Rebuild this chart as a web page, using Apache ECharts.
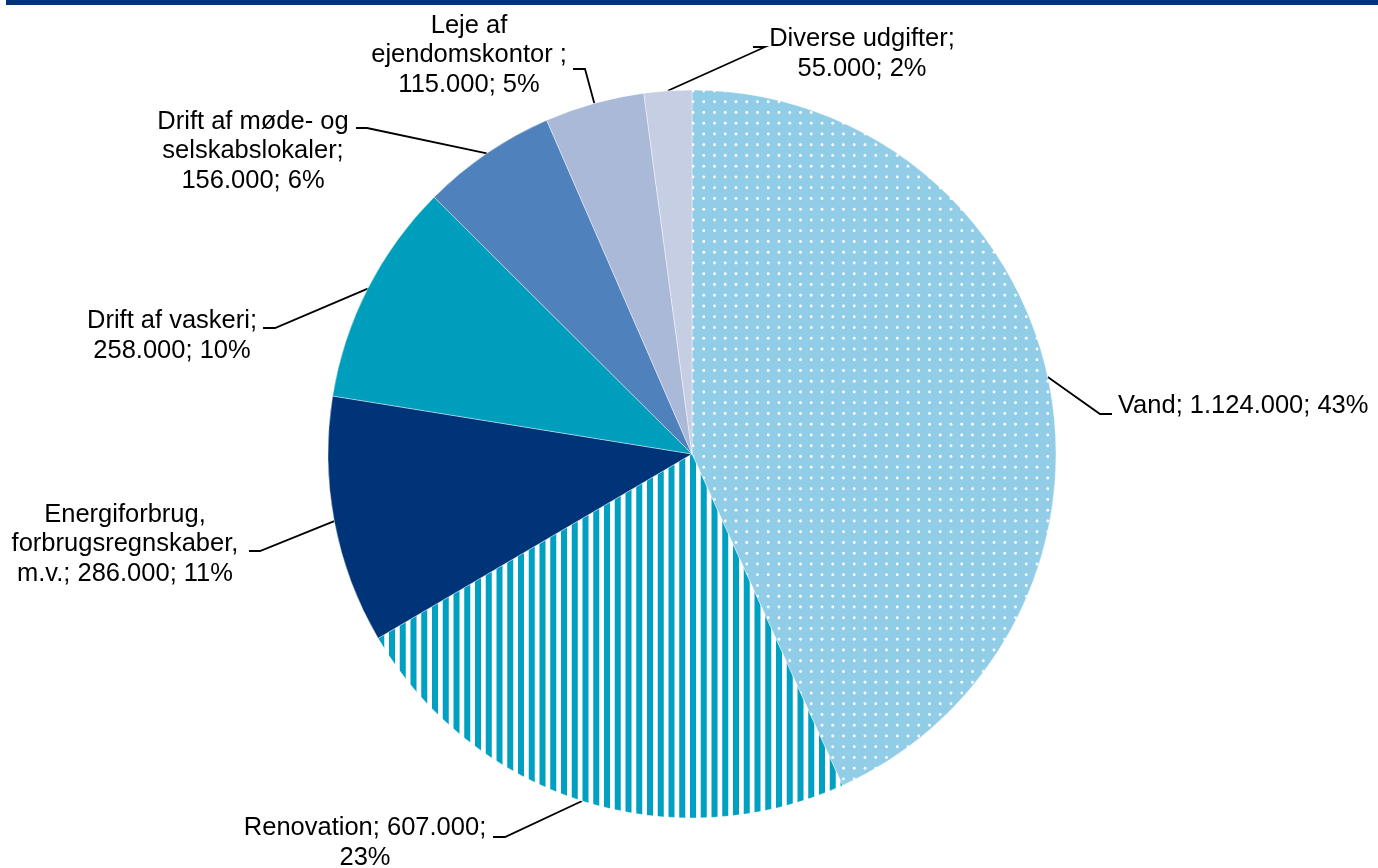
<!DOCTYPE html>
<html>
<head>
<meta charset="utf-8">
<script src="https://cdn.jsdelivr.net/npm/echarts@6/dist/echarts.min.js"></script>
<style>
  html, body { margin: 0; padding: 0; background: #fff; }
  #chart { width: 1378px; height: 868px; }
</style>
</head>
<body>
<div id="chart"></div>
<script>
// data
const categories = ['Vand', 'Renovation', 'Energiforbrug,\nforbrugsregnskaber,\nm.v.', 'Drift af vaskeri',
  'Drift af møde- og\nselskabslokaler', 'Leje af\nejendomskontor ', 'Diverse udgifter']
const values = [1124000, 607000, 286000, 258000, 156000, 115000, 55000]
const shares = [43, 23, 11, 10, 6, 5, 2]
// where Excel broke each label
const labelTemplates = ['{n}; {v}; {p}', '{n}; {v};\n{p}', '{n}; {v}; {p}', '{n};\n{v}; {p}',
  '{n};\n{v}; {p}', '{n};\n{v}; {p}', '{n};\n{v}; {p}']

// label placement: text anchor, elbow and end of the leader line
const labelPos = [
  { x: 1118, y: 406, align: 'left', elbow: [1100, 414], end: [1112, 414] },
  { x: 365, y: 843, align: 'center', elbow: [505, 837], end: [493, 837] },
  { x: 125, y: 544, align: 'center', elbow: [260, 551], end: [249, 551] },
  { x: 172, y: 336, align: 'center', elbow: [275, 328], end: [263, 328] },
  { x: 253, y: 151, align: 'center', elbow: [367, 128], end: [356, 128] },
  { x: 469, y: 55, align: 'center', elbow: [585, 69], end: [573, 69] },
  { x: 862, y: 54, align: 'center', elbow: [765, 47], end: [753, 47] }
]

function dotPattern() {
  const c = document.createElement('canvas')
  c.width = 43
  c.height = 43
  const ctx = c.getContext('2d')
  ctx.fillStyle = '#92cde8'
  ctx.fillRect(0, 0, 43, 43)
  ctx.fillStyle = '#ffffff'
  for (let i = 0; i < 4; i++) {
    for (let j = 0; j < 4; j++) {
      ctx.beginPath()
      ctx.arc(10.75 * i + 5, 10.75 * j + 5, 1.4, 0, Math.PI * 2)
      ctx.fill()
    }
  }
  return c
}

function stripePattern() {
  const c = document.createElement('canvas')
  c.width = 43
  c.height = 4
  const ctx = c.getContext('2d')
  ctx.fillStyle = '#ffffff'
  ctx.fillRect(0, 0, 43, 4)
  ctx.fillStyle = '#00a0c2'
  for (let i = 0; i < 4; i++) {
    ctx.fillRect(10.75 * i + 2, 0, 6, 4)
  }
  return c
}

function fmt(v) {
  return String(v).replace(/\B(?=(\d{3})+(?!\d))/g, '.')
}

const colors = [
  { image: dotPattern(), repeat: 'repeat' },
  { image: stripePattern(), repeat: 'repeat' },
  '#003478',
  '#009ebd',
  '#4f81bd',
  '#aab9d7',
  '#c6cee3'
]

const chart = echarts.init(document.getElementById('chart'))
chart.setOption({
  animation: false,
  graphic: [
    {
      type: 'rect',
      left: 6,
      top: 0,
      shape: { width: 1372, height: 5 },
      style: { fill: '#003478' }
    }
  ],
  series: [
    {
      type: 'pie',
      center: [692, 454],
      radius: 364,
      startAngle: 90,
      clockwise: true,
      avoidLabelOverlap: false,
      data: categories.map((name, i) => ({
        name: name,
        value: values[i],
        itemStyle: { color: colors[i] }
      })),
      itemStyle: {
        borderColor: '#ffffff',
        borderWidth: 0.4
      },
      label: {
        show: true,
        position: 'outside',
        color: '#000',
        fontFamily: 'Liberation Sans, Arial, sans-serif',
        fontSize: 25.5,
        lineHeight: 29.5,
        formatter: function (p) {
          return labelTemplates[p.dataIndex]
            .replace('{n}', p.name)
            .replace('{v}', fmt(p.value))
            .replace('{p}', shares[p.dataIndex] + '%')
        }
      },
      labelLine: {
        show: true,
        smooth: false,
        lineStyle: { color: '#000', width: 1.8 }
      },
      labelLayout: function (params) {
        const p = labelPos[params.dataIndex]
        const out = { x: p.x, y: p.y, align: p.align, verticalAlign: 'middle' }
        if (params.labelLinePoints && params.labelLinePoints[0]) {
          const start = params.labelLinePoints[0]
          out.labelLinePoints = [[start[0], start[1]], p.elbow, p.end]
        }
        return out
      }
    }
  ]
})
</script>
</body>
</html>
